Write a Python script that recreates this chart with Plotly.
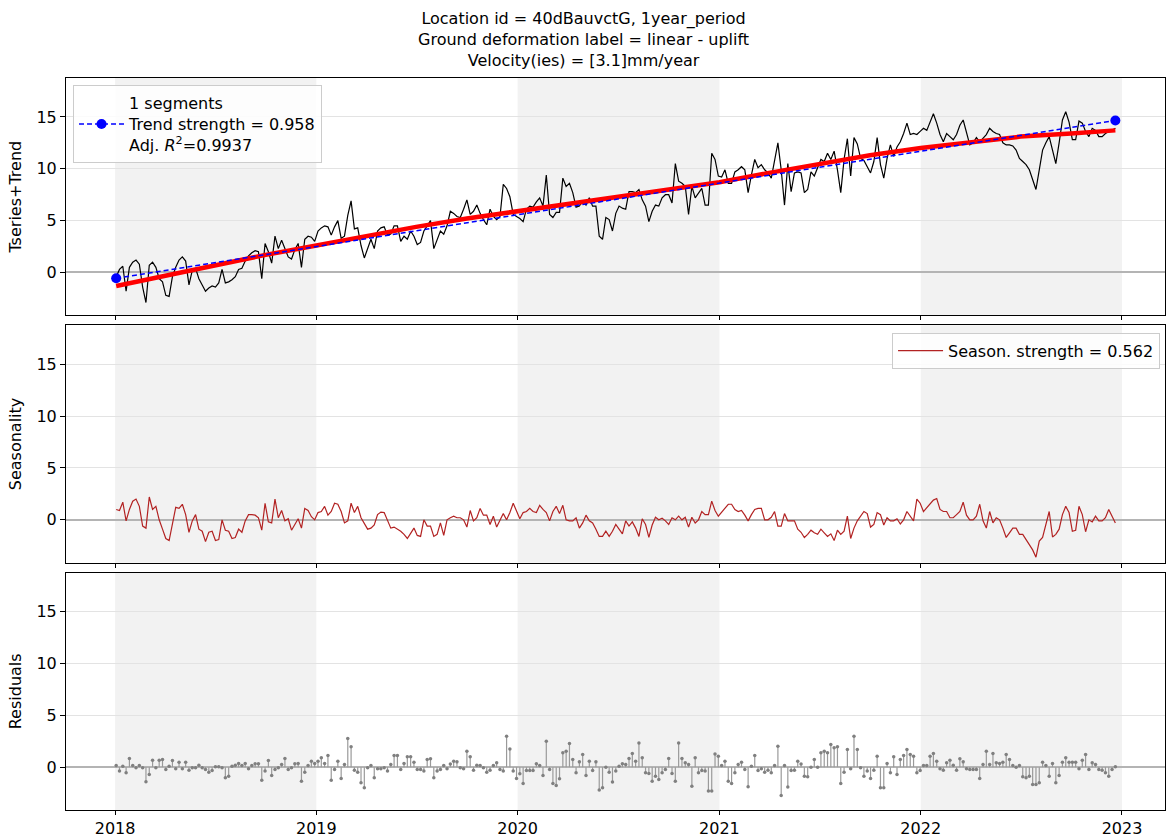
import pandas as pd
import plotly.graph_objects as go

# ---------------------------------------------------------------- data
start_date = "2018-01-03"
step = "6D"

tseries = [
    -0.4, 0.3, 0.6, -1.8, 0.5, 1.0, 1.2, 0.8, -1.4, -2.9,
    0.7, 1.0, 0.5, -0.6, -0.9, -2.2, -2.3, -0.4, 0.5, 1.2,
    1.5, 1.1, -1.2, 0.2, 0.4, -0.6, -1.2, -1.8, -1.5, -1.3,
    -1.4, -1.0, 0.3, -1.0, -0.9, -0.7, -0.4, 0.3, 0.4, 1.1,
    1.6, 1.9, 2.1, 2.0, -0.6, 2.8, 2.0, 0.9, 3.5, 2.3,
    3.1, 2.3, 1.5, 1.3, 2.2, 2.8, 0.5, 3.2, 3.5, 3.4,
    3.0,
    4.0, 4.3, 4.5, 4.4, 3.6, 4.4, 5.0, 3.3, 3.5,
    5.5, 6.9, 4.2, 4.3, 2.6, 1.4, 2.4, 3.2, 2.3, 4.0,
    4.3, 4.4, 3.6, 3.7, 4.5, 4.5, 3.0, 3.5, 3.2, 4.0,
    3.5, 2.7, 2.9, 4.0, 4.5, 5.0, 2.3, 3.2, 4.0, 3.7,
    4.5, 5.9, 5.7, 5.4, 5.3, 6.1, 7.0, 5.6, 5.9, 6.5,
    5.7, 5.1, 4.6, 6.1, 5.4, 5.1, 5.4, 8.5, 8.1, 7.3,
    5.6, 5.4,
    5.2, 4.9, 6.1, 6.4, 6.3, 6.8, 7.2, 6.4,
    9.4, 5.6, 5.3, 5.8, 5.8, 9.1, 8.3, 8.6, 7.7, 6.3,
    6.4, 6.9, 6.5, 7.2, 6.4, 6.4, 3.5, 3.2, 5.3, 5.1,
    4.0, 5.7, 6.4, 6.2, 6.1, 7.8, 7.8, 7.7, 8.0, 7.0,
    6.4, 4.9, 5.9, 6.5, 6.4, 7.2, 7.5, 7.5, 6.7, 10.5,
    8.8, 8.6, 8.3, 5.6, 8.3, 7.2, 7.7, 8.1, 6.5, 6.5,
    11.5, 10.9, 9.3,
    9.2, 9.9, 8.6, 8.6, 9.7, 9.9, 10.2,
    9.9, 7.7, 9.4, 10.9, 10.1, 10.4, 9.9, 9.6, 9.1, 10.7,
    12.5, 9.9, 6.5, 10.5, 7.8, 9.6, 9.7, 9.6, 7.7, 8.0,
    9.7, 9.3, 10.2, 10.9, 10.7, 11.5, 10.9, 11.7, 9.9, 7.7,
    10.9, 12.9, 9.3, 13.0, 12.4, 11.0, 10.8, 10.2, 9.6, 10.7,
    13.0, 10.4, 9.1, 11.0, 12.3, 11.2, 12.1, 12.6, 13.4, 14.4,
    13.3, 13.4, 13.3, 13.6, 13.9,
    13.7, 14.5, 15.3, 14.4, 13.3,
    12.6, 13.4, 13.1, 12.8, 13.3, 14.2, 14.7, 13.4, 12.3, 12.5,
    13.0, 12.6, 13.0, 13.3, 13.9, 13.6, 13.4, 13.3, 12.5, 12.3,
    12.3, 12.2, 11.8, 11.0, 10.7, 10.4, 9.9, 9.0, 8.0, 9.9,
    11.8, 12.5, 13.1, 11.8, 10.5, 12.5, 14.7, 15.5, 14.5, 12.8,
    12.8, 14.6, 14.4, 13.6, 13.1, 13.9, 13.7, 13.1, 13.1, 13.4,
    13.6, 13.7, 13.9,
]

season = [
    1.0, 0.9, 1.7, -0.1, 1.0, 1.8, 2.0, 1.3, -0.6, -0.8,
    2.2, 1.0, 1.3, 0.0, -0.9, -1.8, -2.0, -0.4, 1.2, 1.1,
    1.5, 0.5, -1.2, -0.1, 0.5, -0.9, -1.1, -2.1, -1.2, -1.1,
    -2.0, -1.9, 0.0, -1.0, -1.1, -1.8, -1.7, -0.9, -1.2, -0.1,
    0.5, 0.5, 0.45, 0.2, -1.0, 1.6, -0.2, -0.3, 2.0, 0.2,
    0.9, -0.1, 0.1, -1.0, -0.5, 0.1, -0.8, 1.1, 0.9, 0.3,
    0.0, 0.7, 0.8, 1.3, 0.45, 0.8, 1.6, 1.5, 0.8, -0.3,
    -0.1, 1.6, 0.7, 1.3, 0.2, -0.4, -0.9, -0.8, -0.5, 0.5,
    0.75, 0.7, -0.1, -0.8, -0.7, -0.9, -1.1, -1.4, -1.8, -1.3,
    -0.8, -1.5, -1.6, 0.0, -0.6, -0.6, -1.6, -1.4, -0.3, -1.5,
    0.0,
    0.2, 0.35, 0.2, 0.2, 0.0, -0.7, 0.9, -0.1, 0.2,
    1.1, 0.45, 0.45, -0.45, 0.35, -0.7, -0.1, 0.6, 0.0, 0.7,
    1.6, 0.8, 0.1, 0.7, 0.8, 1.1, 0.8, 0.7, 1.4, 1.0,
    0.7, -0.1, 0.8, 1.3, 0.6, 1.4, 0.0, -0.1, -0.1, 0.2,
    -0.8, -0.3, 0.45, -0.1, -0.3, -0.9, -1.6, -1.6, -1.1, -1.6,
    -1.1, -0.45, -0.9, -1.35, -0.1, -0.6, -0.2, -0.8, -1.6, 0.1,
    -0.45, -1.7, -0.5, 0.25, 0.0, 0.15, -0.1, -0.45, 0.2, 0.0,
    0.35, 0.0, 0.25, -0.7, 0.25, -0.3, 0.0, 0.8, 0.5, 0.5,
    1.8, 0.9, 0.35, 0.7, 1.1, 1.5, 1.5, 1.0, 0.8, 0.9,
    0.45, -0.1, 0.5, 1.0, 1.1, 1.1, 0.0, 0.0, 0.25, 0.8,
    -0.6, -0.6, 0.6, -0.1, -0.1, -0.1, -0.9,
    -1.2, -1.7, -1.4,
    -1.0, -1.25, -1.4, -0.9, -1.25, -1.6, -1.35, -2.0, -1.0, -1.4,
    -1.1, 0.35, -1.8, -0.8, -0.1, 0.35, 0.8, 0.6, -0.7, -0.45,
    0.7, 0.5, -0.5, 0.2, -0.1, -0.1, 0.1, -0.4, 0.0, 0.8,
    0.35, -0.1, 2.0, 1.6, 0.8, 1.15, 1.5, 1.9, 2.05, 1.0,
    0.8, 0.8, 0.2, 0.2, 0.5, 0.8, 1.7, 0.45, 0.0, 0.0,
    0.35, 1.5, -0.1, -0.8, 0.8, -0.3, 0.2, 0.0, -0.8, -1.7,
    -1.25, -0.8, -0.8, -1.4, -1.4, -1.9, -2.5, -2.9, -3.6, -2.05,
    -1.7, -0.45, 0.8, -1.65, -1.4, -0.9, 0.5, 1.3, 0.7, -1.1,
    -1.0, 1.3, 0.5, -1.15, 0.0, -0.2, 0.35, -0.1, -0.1, 0.2,
    1.0, 0.35, -0.3,
]

residuals = [
    0.16, -0.38, 0.1, -0.55, 0.83, 0.16, -0.06, 0.16, -0.06, -1.41,
    -0.7, 0.67, -0.06, 0.67, 0.74, -0.22, 0.1, 0.64, -0.16, 0.48,
    -0.16, 0.48, -0.29, -0.06, -0.06, 0.19, -0.06, -0.22, -0.48, -0.32,
    0.03, 0.03, -0.06, -1.03, -0.87, 0.1, 0.19, 0.35, 0.16, 0.35,
    -0.16, 0.16, 0.32, 0.32, -1.25, -0.38, 0.64, -0.8, -0.22, -0.06,
    0.26, 0.83, -0.22, -0.06, 0.32, 0.35, -1.35, -0.48, 0.16, 0.58,
    0.35, 0.58, 0.9, 0.35, 1.12, -1.25, -0.22, 0.58, -1.09, 0.26,
    2.76, 1.96, -0.29, -0.48, -1.51, -1.99, -0.06, 0.16, -1.03, -0.16,
    -0.16, -0.06, -0.38, 0.26, 1.12, 1.12, -0.22, 0.35, 1.0, 1.0,
    0.48, -0.22, -0.22, -0.38, 0.74, 0.8, -1.03, -0.38, -0.22, 0.16,
    -0.16,
    0.3, 0.58, 0.51, -0.06, -0.16, 1.54, 1.0, -0.29, 0.19,
    0.16, -0.06, -0.48, -0.29, 0.16, 0.42, -0.22, -0.38, 2.98, 1.76,
    -0.38, -1.09, -0.64, -1.57, -0.32, -0.32, -0.32, 0.32, 0.16, -0.8,
    2.5, -0.22, -1.57, -1.76, -1.12, 1.38, 1.54, 2.28, 0.74, -0.55,
    0.51, 1.22, -0.8, 0.58, -0.32, 0.51, -2.21, -1.99, 0.0, -0.48,
    -1.44, -0.38, 0.1, 0.32, 0.26, 0.83, 1.31, 0.58, 2.34, 0.9,
    -0.55, -0.61, -1.35, -0.87, -1.19, -0.55, -0.22, 0.83, -0.61, -1.35,
    2.34, 0.83, 0.42, 0.26, -1.83, 0.9, -0.55, -0.32, -0.38, -2.31,
    -2.31, 1.28, 1.06, 0.16, 0.58, -1.35, -1.57, -0.55, 0.26, 0.48,
    -0.22, -1.89, 0.1, 1.12, -0.32, -0.16, -0.48, -0.29, -0.55, 0.16,
    2.02, -2.72, 0.16, -1.92, -0.32, -0.29, 0.58,
    0.3,
    -0.87, -0.93,
    0.0, 0.74, 0.0, 1.38, 1.54, 1.38, 2.18, 1.86, 1.96, -1.57,
    -0.48, 1.7, -0.16, 2.98, 1.7, -0.06, -0.87, -0.38, -1.09, -0.29,
    1.06, -1.99, -1.99, 0.35, -0.55, 1.0, -0.7, 0.74, 1.12, 1.7,
    1.22, 1.06, -0.55, -0.32, 0.16, 0.16, 1.06, 1.31, 0.58, -0.16,
    -0.29, 0.42, 0.67, 0.19, -0.29, 0.8, 0.51, -0.16, -0.22, -0.22,
    -0.22, -1.09, 0.26, 1.54, 0.26, 1.31, 0.42, 0.35, 0.48, 1.22,
    0.74, 0.16, 0.0, 0.16, -0.93, -1.03, -0.87, -1.67, -1.67, -1.51,
    0.48, 0.16, -0.87, 0.35, -1.51, -0.8, 0.48, 0.9, 0.48, 0.48,
    0.48, -0.16, 0.67, 1.22, -0.22, 0.42, 0.26, -0.22, -0.29, -0.55,
    -0.87, -0.22, 0.03,
]

trend_dates = [
    "2018-01-03", "2018-04-01", "2018-07-01", "2018-10-01",
    "2019-01-01", "2019-04-01", "2019-07-01", "2019-10-01",
    "2020-01-01", "2020-04-01", "2020-07-01", "2020-10-01",
    "2021-01-01", "2021-04-01", "2021-07-01", "2021-10-01",
    "2022-01-01", "2022-04-01", "2022-07-01", "2022-10-01",
    "2022-12-20",
]
trend_values = [
    -1.3, -0.3, 0.7, 1.7,
    2.6, 3.5, 4.4, 5.2,
    5.9, 6.5, 7.2, 7.9,
    8.7, 9.6, 10.5, 11.3,
    12.0, 12.6, 13.1, 13.4,
    13.7,
]

fit_dates = ["2018-01-03", "2022-12-20"]
fit_values = [-0.55, 14.65]

shaded_years = [2018, 2020, 2022]
year_tick_dates = ["2018-01-01", "2019-01-01", "2020-01-01",
                   "2021-01-01", "2022-01-01", "2023-01-01"]
year_tick_labels = ["2018", "2019", "2020", "2021", "2022", "2023"]
y_ticks = [0, 5, 10, 15]

assert len(tseries) == len(season) == len(residuals) == 303, (
    len(tseries), len(season), len(residuals))

dates = pd.date_range(start_date, periods=len(tseries), freq=step)

# ---------------------------------------------------------------- figure
FONT = "DejaVu Sans"
FS = 16
fig = go.Figure()

# panel 1: series, smooth trend, linear fit
fig.add_trace(go.Scatter(x=dates, y=tseries, mode="lines",
                         line=dict(color="black", width=1.2),
                         showlegend=False, xaxis="x", yaxis="y"))
fig.add_trace(go.Scatter(x=pd.to_datetime(trend_dates), y=trend_values,
                         mode="lines", line=dict(color="#ff0000", width=4.5),
                         showlegend=False, xaxis="x", yaxis="y"))
fig.add_trace(go.Scatter(
    x=pd.to_datetime(fit_dates), y=fit_values, mode="lines+markers",
    line=dict(color="#0000ff", width=1.5, dash="5px,3px"),
    marker=dict(color="#0000ff", size=10),
    name="1 segments<br>Trend strength = 0.958<br>Adj. <i>R</i><sup>2</sup>=0.9937",
    legend="legend", xaxis="x", yaxis="y"))

# panel 2: seasonality
fig.add_trace(go.Scatter(x=dates, y=season, mode="lines",
                         line=dict(color="#b22222", width=1.2),
                         name="Season. strength = 0.562",
                         legend="legend2", xaxis="x2", yaxis="y2"))

# panel 3: residual stems
stem_x, stem_y = [], []
for d, r in zip(dates, residuals):
    stem_x += [d, d, None]
    stem_y += [0, r, None]
fig.add_trace(go.Scatter(x=stem_x, y=stem_y, mode="lines",
                         line=dict(color="#9a9a9a", width=1.2),
                         showlegend=False, xaxis="x3", yaxis="y3"))
fig.add_trace(go.Scatter(x=dates, y=residuals, mode="markers",
                         marker=dict(color="#808080", size=3.5),
                         showlegend=False, xaxis="x3", yaxis="y3"))

# alternate-year shading in every panel
for yr in shaded_years:
    for ax, ya in [("x", "y"), ("x2", "y2"), ("x3", "y3")]:
        fig.add_shape(type="rect", xref=ax, yref=f"{ya} domain",
                      x0=f"{yr}-01-01", x1=f"{yr + 1}-01-01", y0=0, y1=1,
                      fillcolor="#f2f2f2", line=dict(width=0), layer="below")

x_range = ["2017-10-04", "2023-03-20"]
y_range = [-4.13, 18.75]

common_x = dict(type="date", range=x_range, tickvals=year_tick_dates,
                ticktext=year_tick_labels, showgrid=False, zeroline=False,
                showline=True, linecolor="black", linewidth=1, mirror=True,
                ticks="outside", ticklen=4, tickcolor="black",
                automargin=False,
                tickfont=dict(family=FONT, size=FS, color="black"))
common_y = dict(range=y_range, tickvals=y_ticks, showgrid=True,
                gridcolor="#e3e3e3", gridwidth=1,
                zeroline=True, zerolinecolor="#b4b4b4", zerolinewidth=2,
                showline=True, linecolor="black", linewidth=1, mirror=True,
                ticks="outside", ticklen=5, tickcolor="black",
                automargin=False,
                tickfont=dict(family=FONT, size=FS, color="black"))

# three equal panels separated by 10 px gaps inside a 732 px plot area
H = 732.0
PH = (H - 20) / 3
d3 = [0.0, PH / H]
d2 = [(PH + 10) / H, (2 * PH + 10) / H]
d1 = [(2 * PH + 20) / H, 1.0]

fig.update_layout(
    width=1167, height=838,
    margin=dict(l=66, r=2, t=78, b=28),
    paper_bgcolor="white", plot_bgcolor="white",
    font=dict(family=FONT, size=FS, color="black"),
    xaxis=dict(common_x, anchor="y", domain=[0, 1], showticklabels=False),
    xaxis2=dict(common_x, anchor="y2", domain=[0, 1], matches="x",
                showticklabels=False),
    xaxis3=dict(common_x, anchor="y3", domain=[0, 1], matches="x"),
    yaxis=dict(common_y, domain=d1, anchor="x",
               title=dict(text="Tseries+Trend", standoff=10,
                          font=dict(family=FONT, size=FS))),
    yaxis2=dict(common_y, domain=d2, anchor="x2",
                title=dict(text="Seasonality", standoff=10,
                           font=dict(family=FONT, size=FS))),
    yaxis3=dict(common_y, domain=d3, anchor="x3",
                title=dict(text="Residuals", standoff=10,
                           font=dict(family=FONT, size=FS))),
    legend=dict(x=0.0064, y=0.99, xanchor="left", yanchor="top",
                xref="paper", yref="paper", itemwidth=45,
                bgcolor="rgba(255,255,255,0.85)", bordercolor="#cccccc",
                borderwidth=1, font=dict(family=FONT, size=FS),
                valign="middle"),
    legend2=dict(x=0.9955, y=0.652, xanchor="right", yanchor="top",
                 xref="paper", yref="paper", itemwidth=45,
                 bgcolor="rgba(255,255,255,0.85)", bordercolor="#cccccc",
                 borderwidth=1, font=dict(family=FONT, size=FS)),
)

# three-line title centred on the whole figure
fig.add_annotation(
    text="Location id = 40dBauvctG, 1year_period<br>"
         "Ground deformation label = linear - uplift<br>"
         "Velocity(ies) = [3.1]mm/year",
    xref="paper", yref="paper", x=(583.5 - 66) / 1099, y=1.0,
    xanchor="center", yanchor="bottom", yshift=6, showarrow=False,
    align="center", font=dict(family=FONT, size=FS, color="black"))

fig.write_html("out.html")
